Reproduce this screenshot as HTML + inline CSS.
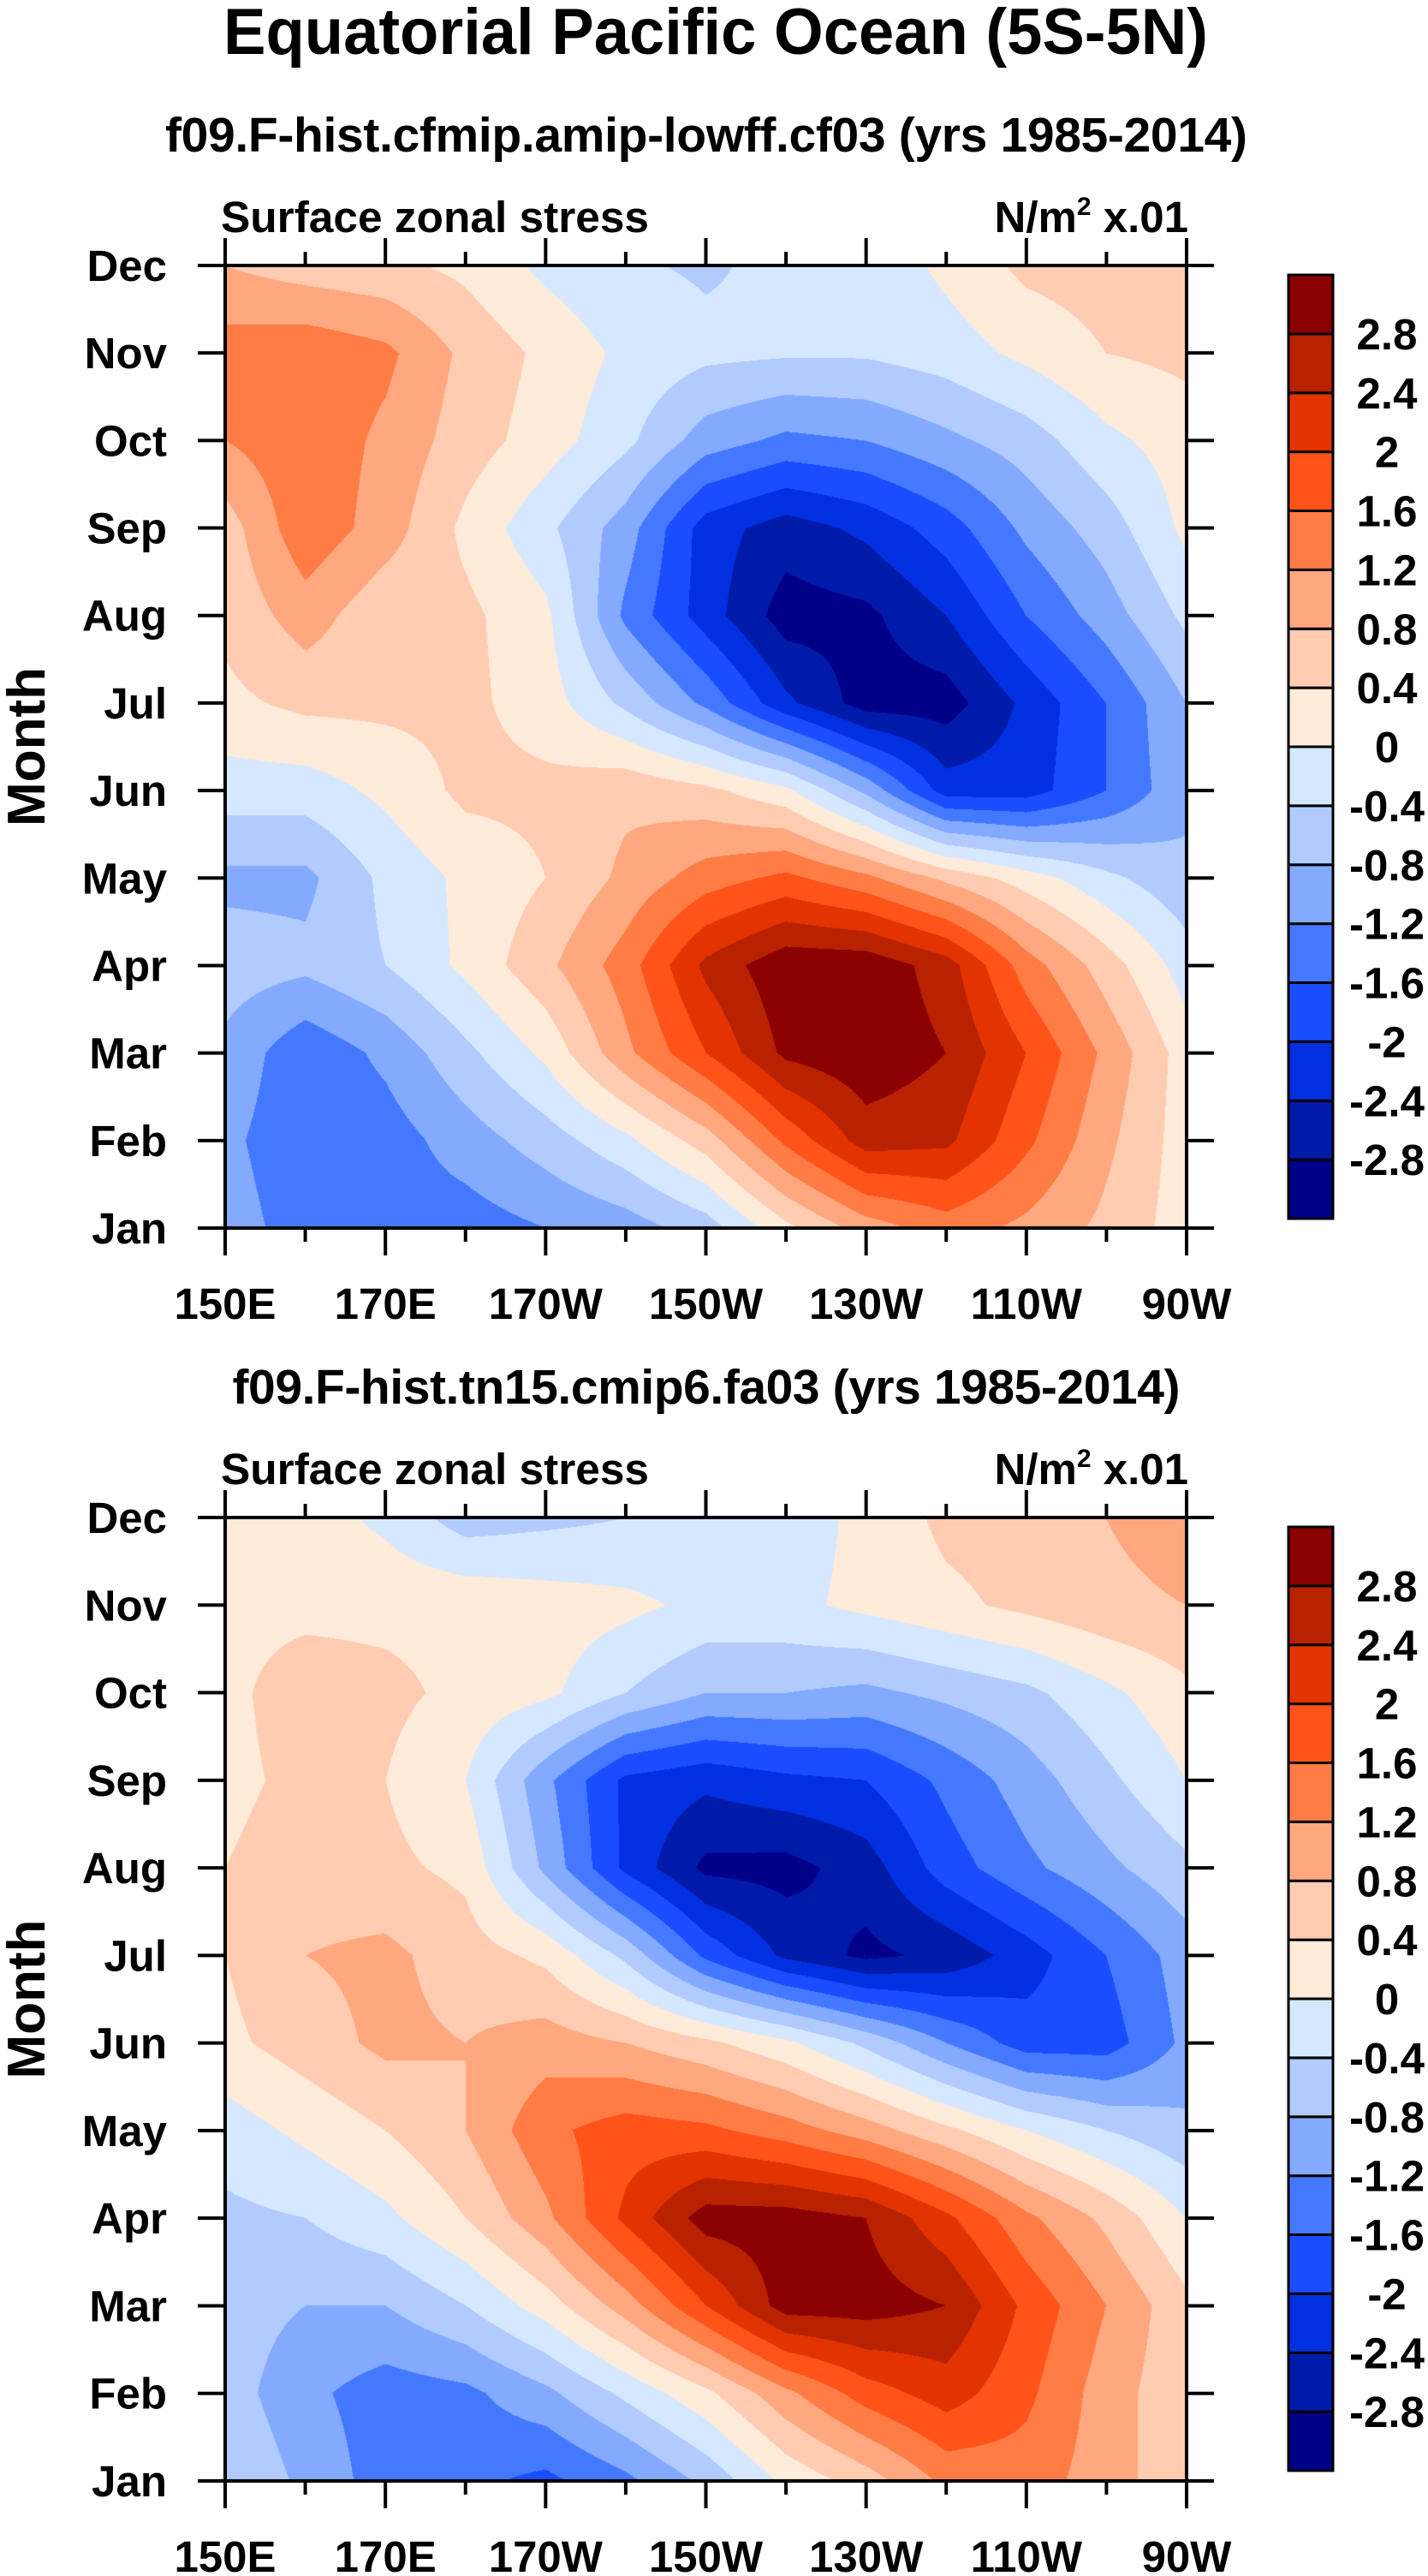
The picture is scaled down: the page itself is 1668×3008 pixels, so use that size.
<!DOCTYPE html>
<html><head><meta charset="utf-8">
<style>
html,body{margin:0;padding:0;background:#fff;}
#root{position:relative;width:1668px;height:3008px;overflow:hidden;background:#fff;font-family:"Liberation Sans",Arial,sans-serif;}
canvas{position:absolute;}
svg{position:absolute;left:0;top:0;}
</style></head>
<body>
<div id="root">
<canvas id="c1" width="1123" height="1124" style="left:263px;top:310px"></canvas>
<canvas id="c2" width="1123" height="1125" style="left:263px;top:1772px"></canvas>
<svg id="ov" width="1668" height="3008"></svg>
</div>
<script>
// ---- data ----
const months = ["Jan","Feb","Mar","Apr","May","Jun","Jul","Aug","Sep","Oct","Nov","Dec"];
const lons = [150,160,170,180,190,200,210,220,230,240,250,260,270];
const lonTickVals = [150,170,190,210,230,250,270];
const lonTickLabels = ["150E","170E","170W","150W","130W","110W","90W"];
const levels = [-2.8,-2.4,-2,-1.6,-1.2,-0.8,-0.4,0,0.4,0.8,1.2,1.6,2,2.4,2.8];
const levelLabels = ["-2.8","-2.4","-2","-1.6","-1.2","-0.8","-0.4","0","0.4","0.8","1.2","1.6","2","2.4","2.8"];
const colors = ["#000088","#001AAA","#0030E0","#1A4DFF","#4479FF","#83AAFF","#B1CBFF","#D6E8FF","#FFEBD9","#FFCCB2","#FFA880","#FF7C45","#FF5319","#E33300","#B82200","#8B0000"];
// panel 1 (cf03): rows Jan..Dec, columns 150E..90W
const stress1 = [
 [-1.0,-1.4,-1.4,-1.4,-1.2,-1.0,-0.6, 0.3, 1.0, 1.4, 1.1, 0.7, 0.2],
 [-1.1,-1.5,-1.4,-1.0,-0.6,-0.1, 0.6, 1.7, 2.6, 2.5, 1.7, 0.9, 0.2],
 [-0.9,-1.5,-1.1,-0.5, 0.1, 1.1, 2.0, 2.9, 3.1, 2.8, 2.0, 1.1, 0.2],
 [-0.6,-0.7,-0.4, 0.1, 0.7, 1.4, 2.5, 3.1, 3.1, 2.6, 1.4, 0.6,-0.2],
 [-0.9,-0.9,-0.3, 0.1, 0.4, 0.9, 1.4, 1.7, 1.3, 0.7, 0.2,-0.3,-0.7],
 [-0.2,-0.2, 0.1, 0.5, 0.5, 0.7, 0.5, 0.1,-0.9,-2.2,-2.2,-1.6,-0.9],
 [ 0.3, 0.5, 0.5, 0.5, 0.2,-0.5,-1.3,-2.3,-3.0,-3.0,-2.3,-1.6,-0.8],
 [ 0.5, 1.0, 0.5, 0.5, 0.1,-1.3,-2.2,-3.0,-2.9,-2.4,-1.6,-1.0,-0.3],
 [ 0.6, 1.5, 1.0, 0.3,-0.3,-1.0,-2.2,-2.6,-2.3,-1.8,-1.1,-0.6, 0.1],
 [ 1.2, 1.5, 1.1, 0.6, 0.2,-0.3,-1.0,-1.3,-1.2,-0.9,-0.6,-0.1, 0.2],
 [ 1.4, 1.5, 1.3, 0.7, 0.3,-0.1,-0.3,-0.35,-0.35,-0.2, 0.1, 0.4, 0.5],
 [ 0.8, 0.6, 0.5, 0.3,-0.1,-0.35,-0.45,-0.3,-0.3, 0.1, 0.5, 0.6, 0.6]
];
// panel 2 (fa03)
const stress2 = [
 [-0.4,-0.9,-1.4,-1.5,-1.7,-1.3,-0.7, 0.1, 0.6, 1.3, 1.4, 1.0, 0.5],
 [-0.6,-1.1,-1.4,-1.3,-0.9,-0.3, 0.3, 1.1, 1.8, 2.2, 1.7, 1.0, 0.5],
 [-0.6,-0.8,-0.8,-0.4, 0.2, 1.0, 2.0, 3.0, 3.0, 2.8, 1.9, 1.2, 0.5],
 [-0.5,-0.4,-0.1, 0.4, 1.1, 2.1, 3.0, 3.0, 2.8, 2.1, 1.3, 0.7, 0.0],
 [-0.2, 0.1, 0.4, 0.8, 1.5, 1.8, 1.7, 1.4, 1.0, 0.5, 0.0,-0.4,-0.7],
 [ 0.3, 0.6, 0.9, 0.8, 1.0, 0.8, 0.5, 0.1,-0.5,-1.2,-1.8,-1.8,-1.1],
 [ 0.4, 0.8, 0.9, 0.6, 0.3,-0.5,-1.7,-2.5,-2.9,-2.7,-2.2,-1.6,-1.0],
 [ 0.4, 0.6, 0.5, 0.3,-0.9,-2.1,-2.9,-2.95,-2.6,-1.8,-1.3,-0.9,-0.5],
 [ 0.3, 0.5, 0.4, 0.0,-1.1,-2.1,-2.3,-2.1,-2.0,-1.5,-1.0,-0.5, 0.0],
 [ 0.3, 0.6, 0.5, 0.3, 0.1,-0.4,-0.8,-0.8,-0.9,-0.7,-0.5,-0.1, 0.3],
 [ 0.3, 0.3, 0.3, 0.3, 0.2, 0.1,-0.1,-0.1, 0.1, 0.3, 0.5, 0.7, 0.8],
 [ 0.4, 0.2,-0.1,-0.6,-0.5,-0.4,-0.3,-0.2, 0.1, 0.5, 0.6, 0.8, 1.0]
];

const NS='http://www.w3.org/2000/svg';
const svg=document.getElementById('ov');
function mk(tag,attrs,parent){const e=document.createElementNS(NS,tag);for(const k in attrs)e.setAttribute(k,attrs[k]);(parent||svg).appendChild(e);return e;}
function txt(s,attrs,parent){const e=mk('text',attrs,parent);e.textContent=s;return e;}

function hex(c){return [parseInt(c.substr(1,2),16),parseInt(c.substr(3,2),16),parseInt(c.substr(5,2),16)];}
const rgb=colors.map(hex);

function drawField(canvasId,data){
  const cv=document.getElementById(canvasId),ctx=cv.getContext('2d');
  const W=cv.width,H=cv.height,img=ctx.createImageData(W,H);
  const nx=lons.length-1, ny=months.length-1;
  for(let py=0;py<H;py++){
    const fy=(H-1-py)/(H-1)*ny; let j=Math.min(Math.floor(fy),ny-1); const ty=fy-j;
    for(let px=0;px<W;px++){
      const fx=px/(W-1)*nx; let i=Math.min(Math.floor(fx),nx-1); const tx=fx-i;
      const v=(1-ty)*((1-tx)*data[j][i]+tx*data[j][i+1])+ty*((1-tx)*data[j+1][i]+tx*data[j+1][i+1]);
      let k=0;while(k<levels.length&&v>=levels[k])k++;
      const c=rgb[k],o=(py*W+px)*4;img.data[o]=c[0];img.data[o+1]=c[1];img.data[o+2]=c[2];img.data[o+3]=255;
    }
  }
  ctx.putImageData(img,0,0);
}

// title
const t=txt('Equatorial Pacific Ocean (5S-5N)',{x:836,y:63,'text-anchor':'middle','font-size':76,'font-weight':'bold',textLength:1150,lengthAdjust:'spacingAndGlyphs'});



function panel(top,sub,subLen,data,canvasId,tag){
  const L=263,R=1386,B=top+1124+(tag==='2'?1:0),W=R-L,H=B-top;
  const g=mk('g',{});
  
  
  const xS=v=>L+(v-lons[0])/(lons[lons.length-1]-lons[0])*W;
  const yS=m=>B-m/(months.length-1)*H;
  const st=txt(sub,{x:825,y:top-133,'text-anchor':'middle','font-size':57,'font-weight':'bold'},g);
  if(subLen)st.setAttribute('textLength',subLen);
  
  
  const ls=txt('Surface zonal stress',{x:258,y:top-39,'font-size':51,'font-weight':'bold',textLength:500,lengthAdjust:'spacingAndGlyphs'},g);
  
  
  const un=mk('text',{x:1388,y:top-39,'text-anchor':'end','font-size':51,'font-weight':'bold'},g);
  
  
  un.innerHTML='N/m<tspan dy="-20" font-size="30">2</tspan><tspan dy="20"> x.01</tspan>';
  drawField(canvasId,data);
  const fr=mk('rect',{x:L,y:top,width:W,height:H,fill:'none',stroke:'#000','stroke-width':4},g);
  
  
  months.forEach((m,i)=>{
    const y=yS(i);
    mk('line',{x1:L-32,x2:L,y1:y,y2:y,stroke:'#000','stroke-width':4},g);
    mk('line',{x1:R,x2:R+32,y1:y,y2:y,stroke:'#000','stroke-width':4},g);
    const lb=txt(m,{x:195,y:y+18,'text-anchor':'end','font-size':51,'font-weight':'bold'},g);
    
    
  });
  for(let v=lons[0];v<=lons[lons.length-1];v+=10){
    const x=xS(v),major=lonTickVals.includes(v),len=major?32:16;
    mk('line',{x1:x,x2:x,y1:top-len,y2:top,stroke:'#000','stroke-width':4},g);
    mk('line',{x1:x,x2:x,y1:B,y2:B+len,stroke:'#000','stroke-width':4},g);
  }
  lonTickVals.forEach((v,i)=>{
    const lb=txt(lonTickLabels[i],{x:xS(v),y:B+106,'text-anchor':'middle','font-size':51,'font-weight':'bold'},g);
    
    
  });
  const yt=txt('Month',{x:0,y:0,'text-anchor':'middle','font-size':62,'font-weight':'bold',transform:`translate(52,${(top+B)/2}) rotate(-90)`},g);
  
  
  const cbT=top+11,cbB=top+1113,cbH=(cbB-cbT)/colors.length;
  const cb=mk('g',{},g);
  
  
  colors.forEach((c,k)=>{
    const y=cbB-(k+1)*cbH;
    const r=mk('rect',{x:1505,y:y,width:52,height:cbH,fill:c,stroke:'#000','stroke-width':3},cb);
    
    
  });
  levels.forEach((lv,k)=>{
    const y=cbB-(k+1)*cbH;
    const lb=txt(levelLabels[k],{x:1620,y:y+18,'text-anchor':'middle','font-size':51,'font-weight':'bold'},cb);
    
    
  });
}
panel(310,'f09.F-hist.cfmip.amip-lowff.cf03 (yrs 1985-2014)',1264,stress1,'c1','1');
panel(1772,'f09.F-hist.tn15.cmip6.fa03 (yrs 1985-2014)',1107,stress2,'c2','2');
</script>
</body></html>
